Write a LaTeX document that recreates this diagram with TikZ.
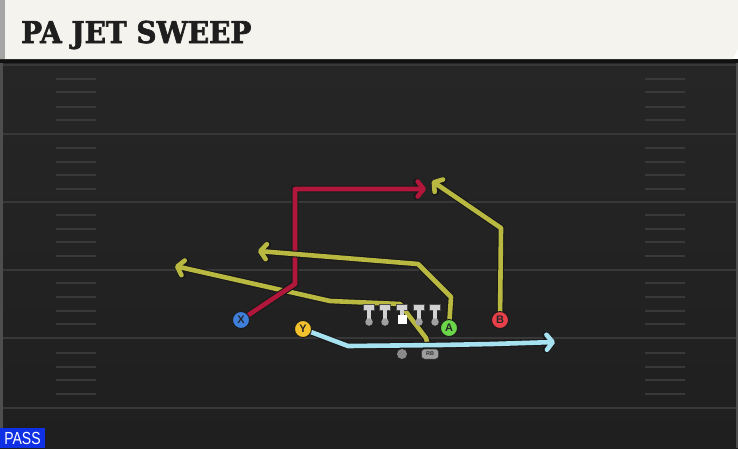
\documentclass[tikz,border=0pt]{standalone}
\usepackage{fontspec}
\setmainfont{Liberation Sans}
\newfontfamily\titlefont{DejaVu Serif Bold}[FakeBold=2.2]
\usetikzlibrary{arrows.meta}
\definecolor{fieldbg}{HTML}{262626}
\definecolor{fieldbot}{HTML}{1F1F1F}
\definecolor{yardline}{HTML}{383838}
\definecolor{hashc}{HTML}{393939}
\definecolor{cream}{HTML}{F5F3ED}
\definecolor{stripc}{HTML}{A5A5A5}
\definecolor{titlec}{HTML}{1E1E1E}
\definecolor{redr}{HTML}{B0173A}
\definecolor{olive}{HTML}{B9B942}
\definecolor{skyr}{HTML}{A6E2F0}
\definecolor{xblue}{HTML}{3F7FDC}
\definecolor{yyellow}{HTML}{F2C12E}
\definecolor{agreen}{HTML}{6CD64A}
\definecolor{bred}{HTML}{E8404A}
\definecolor{linec}{HTML}{D2D2D2}
\definecolor{bulbc}{HTML}{A0A0A0}
\definecolor{qbc}{HTML}{8A8A8A}
\definecolor{rbc}{HTML}{9E9E9E}
\definecolor{passblue}{HTML}{1030E6}
\tikzset{
  route/.style={draw=#1, line width=4.6pt, line cap=round, line join=round,
    preaction={draw=black!90, line width=6.8pt}},
  tipped/.style={-{Straight Barb[length=6pt,width=15pt,line cap=round,line join=round]}},
  player/.style={circle, draw=black!90, line width=0.9pt, fill=#1, minimum size=17pt,
    inner sep=0pt, font=\bfseries\fontsize{11}{11}\selectfont, text=black!85},
  rbbox/.style={rounded corners=3pt, fill=rbc, draw=black!80, line width=0.5pt, minimum width=17pt,
    minimum height=10pt, inner sep=0pt, font=\bfseries\fontsize{5.5}{5.5}\selectfont, text=black!80},
  hashmark/.style={draw=hashc, line width=1.4pt},
  yard/.style={draw=yardline, line width=2pt},
  bulb/.style={circle, fill=bulbc, inner sep=0pt, minimum size=7.5pt},
}
\begin{document}
\begin{tikzpicture}[x=1pt,y=-1pt]
\useasboundingbox (0,0) rectangle (738,448);
% field
\shade[top color=fieldbg, bottom color=fieldbot] (0,59) rectangle (738,448);
\fill[black!55!fieldbg] (0,59) rectangle (738,63);
\fill[gray!45!fieldbg] (0,63) rectangle (2.5,448);
\fill[gray!45!fieldbg] (735.5,63) rectangle (738,448);
% yard lines
\foreach \yy in {65,134,202,270,338,408} {
  \draw[yard] (2.5,\yy) -- (735.5,\yy);
}
% hash marks
\foreach \yy in {79,92,107,120,148,162,175,189,215,229,242,256,283,297,311,324,353,367,380,394} {
  \draw[hashmark] (56,\yy) -- (96,\yy);
  \draw[hashmark] (645,\yy) -- (685,\yy);
}
% header
\fill[cream] (0,0) -- (738,0) -- (738,49) -- (732.5,59) -- (0,59) -- cycle;
\fill[stripc] (0,0) rectangle (5,59);
\node[anchor=base west, inner sep=0pt, text=titlec, font=\titlefont\fontsize{30}{30}\selectfont, xscale=0.93] (title) at (21,43) {PA JET SWEEP};
% PASS label
\fill[passblue] (0,428) rectangle (45,448);
\node[anchor=base, inner sep=0pt, text=white, font=\fontsize{17.5}{17.5}\selectfont, xscale=0.8] (pass) at (22.5,444.5) {PASS};
% line
\foreach \xx/\nm in {369/t1,385/t2,402/t3,419/t4,435/t5} {
  \coordinate (\nm) at (\xx,305);
}
% routes
\coordinate (rb0) at (428,346);
\coordinate (rb1) at (426,338);
\coordinate (rb2) at (400,304);
\coordinate (rb3) at (330,301);
\coordinate (rbE) at (175,266);
\coordinate (x1) at (295,284);
\coordinate (x2) at (295,189);
\coordinate (xE) at (426,189);
\coordinate (a1) at (451,297);
\coordinate (a2) at (418,264);
\coordinate (aE) at (258,251);
\coordinate (b1) at (501,228);
\coordinate (bE) at (432,181);
\coordinate (y1) at (348,346);
\coordinate (y2) at (440,345);
\coordinate (y3) at (492,344);
\coordinate (yE) at (555,342);
\coordinate (Xc) at (241,320);
\coordinate (Yc) at (303,329);
\coordinate (Ac) at (449,328);
\coordinate (Bc) at (500,320);
\node[circle, fill=qbc, inner sep=0pt, minimum size=10pt] (QB) at (402,354) {};
\draw[route=olive, tipped] (rb0) -- (rb1) -- (rb2) -- (rb3) -- (rbE);
\draw[route=redr, tipped] (Xc) -- (x1) -- (x2) -- (xE);
\draw[route=olive, tipped] (Ac) -- (a1) -- (a2) -- (aE);
\draw[route=olive, tipped] (Bc) -- (b1) -- (bE);
\draw[route=skyr, tipped] (Yc) -- (y1) -- (y2) -- (y3) -- (yE);
% players on top
\node[player=xblue] (X) at (Xc) {X};
\node[player=yyellow] (Y) at (Yc) {Y};
\node[player=agreen] (A) at (Ac) {A};
\node[player=bred] (B) at (Bc) {B};
\node[rbbox] (RB) at (430,354) {RB};
% linemen
\foreach \nm in {t1,t2,t3,t4,t5} {
  \filldraw[fill=linec, draw=black!70, line width=0.4pt] ([xshift=-5.5pt,yshift=0.5pt]\nm) rectangle ([xshift=5.5pt,yshift=-5pt]\nm);
  \fill[linec] ([xshift=-2pt,yshift=-4pt]\nm) rectangle ([xshift=2pt,yshift=-15pt]\nm);
}
\foreach \nm in {t1,t2,t4,t5} {
  \node[bulb] at ([yshift=-17pt]\nm) {};
}
\fill[white] ([xshift=-4.5pt,yshift=-10pt]t3) rectangle ([xshift=4.5pt,yshift=-19pt]t3);
\end{tikzpicture}
\end{document}
